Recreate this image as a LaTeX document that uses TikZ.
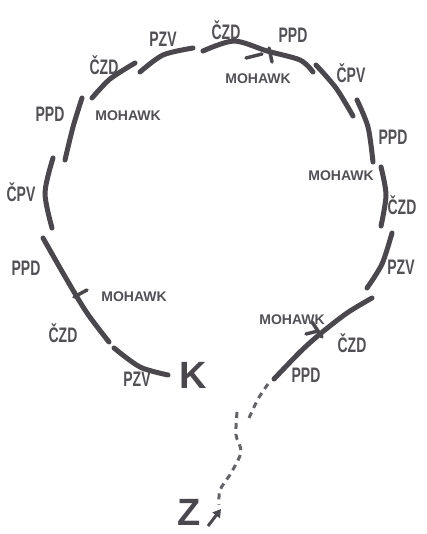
\documentclass[tikz,border=0pt]{standalone}
\usepackage{fontspec}
\setsansfont{Liberation Sans}
\usepackage{graphicx}
\usepackage{tikz}
\usetikzlibrary{arrows.meta}
\definecolor{marker}{HTML}{4B484D}
\definecolor{pencil}{HTML}{525054}
\newcommand{\tall}[1]{\scalebox{1}[1.5]{#1}}

\begin{document}
\begin{tikzpicture}[x=1pt,y=-1pt,
  track/.style={draw=marker,line width=5pt,line cap=round},
  tick/.style={draw=marker,line width=3.5pt,line cap=round},
  trail/.style={draw=marker!85,line width=3pt,dash pattern=on 6pt off 5pt},
  stn/.style={text=pencil,font=\fontsize{14}{14}\selectfont\sffamily\bfseries,inner sep=0pt},
  xfer/.style={text=pencil,font=\fontsize{14}{14}\selectfont\sffamily\bfseries,inner sep=0pt},
  big/.style={text=marker,font=\fontsize{38}{38}\selectfont\sffamily\bfseries,inner sep=0pt}]
\useasboundingbox (0,0) rectangle (427,534);

% the ring, clockwise from K
\draw[track] plot[smooth] coordinates {(168,375) (140,367) (114,348)};
\draw[track] plot[smooth] coordinates {(43,238) (67,280) (87,313) (109,342)};
\draw[track] plot[smooth] coordinates {(52,228) (45,193) (53,158)};
\draw[track] plot[smooth] coordinates {(65,160) (73,127) (82,98)};
\draw[track] plot[smooth] coordinates {(92,98) (110,79) (135,63)};
\draw[track] plot[smooth] coordinates {(140,72) (163,55) (193,48)};
\draw[track] plot[smooth] coordinates {(203,51) (234,41) (267,51) (300,60) (313,72)};
\draw[track] plot[smooth] coordinates {(316,65) (336,88) (353,116)};
\draw[track] plot[smooth] coordinates {(357,100) (368,127) (373,162)};
\draw[track] plot[smooth] coordinates {(381,167) (386,195) (381,226)};
\draw[track] plot[smooth] coordinates {(392,233) (382,264) (367,288)};
\draw[track] plot[smooth] coordinates {(372,298) (347,313) (320,334) (300,352) (274,379)};

% crossings at the Mohawk stops
\draw[tick] (74,297) -- (87,290);
\draw[tick] (246,58) -- (262,54);
\draw[tick] (269,48) -- (272,62);
\draw[tick] (312,322) -- (322,337);
\draw[tick] (306,334) -- (318,331);

% stops outside the ring
\node[stn] (pzv1) at (137,379) {\tall{PZV}};
\node[stn] (czd1) at (63,333) {\tall{ČZD}};
\node[stn] (ppd1) at (26,268) {\tall{PPD}};
\node[stn] (cpv1) at (21,192) {\tall{ČPV}};
\node[stn] (ppd2) at (50,114) {\tall{PPD}};
\node[stn] (czd2) at (104,65) {\tall{ČZD}};
\node[stn] (pzv2) at (163,39) {\tall{PZV}};
\node[stn] (czd3) at (226,30) {\tall{ČZD}};
\node[stn] (ppd3) at (293,35) {\tall{PPD}};
\node[stn] (cpv2) at (351,73) {\tall{ČPV}};
\node[stn] (ppd4) at (393,137) {\tall{PPD}};
\node[stn] (czd4) at (402,205) {\tall{ČZD}};
\node[stn] (pzv3) at (401,267) {\tall{PZV}};
\node[stn] (czd5) at (352,343) {\tall{ČZD}};
\node[stn] (ppd5) at (306,375) {\tall{PPD}};

% Mohawk stops inside
\node[xfer] (mhk1) at (134,297) {MOHAWK};
\node[xfer] (mhk2) at (128,116) {MOHAWK};
\node[xfer] (mhk3) at (258,79) {MOHAWK};
\node[xfer] (mhk4) at (341,176) {MOHAWK};
\node[xfer] (mhk5) at (292,320) {MOHAWK};

% K and the way out to Z
\node[big] (k) at (193,375) {K};
\node[big] (z) at (189,512) {Z};
\draw[trail] plot[smooth] coordinates {(268,384) (258,399) (249,418)};
\draw[trail] plot[smooth] coordinates {(237,412) (236,435) (241,452) (231,473) (220,490) (219,505)};
\coordinate (zfoot) at (208,526);
\coordinate (ztip) at (221,509);
\draw[marker,line width=3pt,-{Triangle[length=8pt,width=9pt]}] (zfoot) -- (ztip);
\end{tikzpicture}
\end{document}
